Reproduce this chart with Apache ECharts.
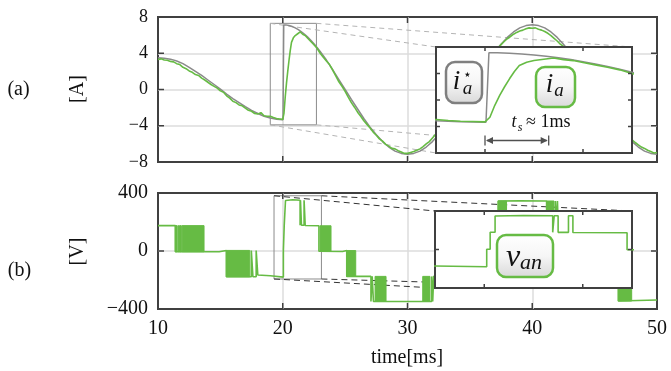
<!DOCTYPE html>
<html>
<head>
<meta charset="utf-8">
<script src="https://cdn.jsdelivr.net/npm/echarts@6/dist/echarts.min.js"></script>
<style>
html, body { margin: 0; padding: 0; background: #fff; }
#chart { width: 671px; height: 371px; }
</style>
</head>
<body>
<div id="chart"></div>
<script>
// Phase current reference i_a* : [time ms, current A]
const iRef = [
  [10.0, 3.49], [10.5, 3.45], [11.0, 3.35], [11.5, 3.15], [12.0, 2.85], [12.5, 2.45],
  [13.0, 2.0], [13.5, 1.55], [14.0, 1.05], [14.5, 0.55], [15.0, 0.05], [15.5, -0.5],
  [16.0, -1.0], [16.5, -1.45], [17.0, -1.9], [17.5, -2.3], [18.0, -2.65], [18.5, -2.95],
  [19.0, -3.15], [19.5, -3.28], [20.02, -3.35], [20.08, 7.13],
  [20.25, 7.13], [20.5, 7.06], [20.75, 6.95], [21.0, 6.8], [21.25, 6.61], [21.5, 6.37],
  [21.75, 6.1], [22.0, 5.78], [22.25, 5.44], [22.5, 5.06], [22.75, 4.64], [23.0, 4.2],
  [23.5, 3.25], [24.0, 2.2], [24.5, 1.1], [25.0, 0.0], [25.5, -1.1], [26.0, -2.15],
  [26.5, -3.2], [27.0, -4.15], [27.5, -5.0], [28.0, -5.75], [28.5, -6.35], [29.0, -6.8],
  [29.5, -7.05], [30.0, -7.15], [30.5, -7.05], [31.0, -6.8], [31.5, -6.35], [32.0, -5.75],
  [32.5, -5.0], [33.0, -4.15], [33.5, -3.2], [34.0, -2.15], [34.5, -1.1], [35.0, 0.0],
  [35.5, 1.1], [36.0, 2.15], [36.5, 3.2], [37.0, 4.15], [37.5, 5.0], [38.0, 5.75],
  [38.5, 6.35], [39.0, 6.8], [39.5, 7.05], [40.0, 7.15], [40.5, 7.05], [41.0, 6.8],
  [41.5, 6.35], [42.0, 5.75], [42.5, 5.0], [43.0, 4.15], [43.5, 3.2], [44.0, 2.15],
  [44.5, 1.1], [45.0, 0.0], [45.5, -1.1], [46.0, -2.15], [46.5, -3.2], [47.0, -4.15],
  [47.5, -5.0], [48.0, -5.75], [48.5, -6.35], [49.0, -6.8], [49.5, -7.05], [50.0, -7.15]
];

// Measured phase current i_a : [time ms, current A]
const iMeas = [
  [10.0, 3.3], [10.25, 3.38], [10.5, 3.25], [10.75, 3.22], [11.0, 3.1], [11.25, 3.05],
  [11.5, 2.85], [11.75, 2.75], [12.0, 2.45], [12.25, 2.3], [12.5, 2.05], [12.75, 1.9],
  [13.0, 1.65], [13.25, 1.55], [13.5, 1.25], [13.75, 1.05], [14.0, 0.8], [14.25, 0.55],
  [14.5, 0.35], [14.75, 0.15], [15.0, -0.15], [15.25, -0.3], [15.5, -0.7], [15.75, -0.95],
  [16.0, -1.3], [16.25, -1.45], [16.5, -1.7], [16.75, -1.8], [17.0, -2.05], [17.25, -2.3],
  [17.5, -2.4], [17.75, -2.65], [18.0, -2.7], [18.25, -2.55], [18.5, -2.9], [18.75, -2.95],
  [19.0, -2.95], [19.25, -3.1], [19.5, -3.2], [19.75, -3.25], [20.0, -3.3],
  [20.1, -2.6], [20.2, -0.8], [20.3, 0.7], [20.4, 2.0], [20.5, 3.2], [20.6, 4.3],
  [20.7, 5.2], [20.85, 5.7], [21.0, 5.95], [21.2, 6.15], [21.4, 6.35], [21.6, 6.1],
  [21.8, 5.95], [22.0, 5.65], [22.25, 5.3], [22.5, 4.95], [22.75, 4.55], [23.0, 4.0],
  [23.25, 3.55], [23.5, 3.15], [23.75, 2.75], [24.0, 2.15], [24.25, 1.5], [24.5, 0.85],
  [24.75, 0.35], [25.0, -0.2], [25.25, -0.85], [25.5, -1.45], [25.75, -1.95], [26.0, -2.5],
  [26.25, -2.95], [26.5, -3.45], [26.75, -3.85], [27.0, -4.25], [27.25, -4.7], [27.5, -5.05],
  [27.75, -5.45], [28.0, -5.7], [28.25, -6.05], [28.5, -6.25], [28.75, -6.5], [29.0, -6.55],
  [29.25, -6.75], [29.5, -6.9], [29.75, -7.05], [30.0, -7.05], [30.25, -6.95], [30.5, -6.85],
  [30.75, -6.7], [31.0, -6.55], [31.25, -6.3], [31.5, -6.0], [31.75, -5.75], [32.0, -5.35],
  [32.25, -4.95], [32.5, -4.5], [32.75, -4.05], [33.0, -3.55], [33.5, -2.5], [34.0, -1.45],
  [34.5, -0.4], [35.0, 0.65], [35.5, 1.7], [36.0, 2.65], [36.5, 3.55], [37.0, 4.3],
  [37.25, 4.6], [37.5, 4.95], [37.75, 5.3], [38.0, 5.6], [38.25, 5.85], [38.5, 6.1],
  [38.75, 6.3], [39.0, 6.45], [39.25, 6.55], [39.5, 6.7], [39.75, 6.8], [40.0, 6.75],
  [40.25, 6.8], [40.5, 6.65], [40.75, 6.55], [41.0, 6.4], [41.25, 6.2], [41.5, 5.95],
  [41.75, 5.65], [42.0, 5.35], [42.25, 5.0], [42.5, 4.75], [43.0, 4.0], [43.5, 3.1],
  [44.0, 2.1], [44.5, 1.05], [45.0, 0.0], [45.5, -1.05], [46.0, -2.1], [46.5, -3.1],
  [47.0, -4.0], [47.5, -4.85], [47.75, -5.2], [48.0, -5.55], [48.25, -5.85], [48.5, -6.1],
  [48.75, -6.35], [49.0, -6.5], [49.25, -6.7], [49.5, -6.85], [49.75, -7.0], [50.0, -6.95]
];

// Phase voltage v_an, switching level sequence : [time ms, voltage V]
const vAn = [
  [10.0, 175], [11.39, 175], [11.39, -5], [14.9, -5],
  [14.9, 4], [15.48, 4], [15.48, -178], [17.48, -178], [17.48, 3], [17.61, 3],
  [17.61, -178], [17.87, -178], [17.87, 3], [18.0, 3], [18.0, -166], [19.0, -171],
  [20.05, -180], [20.05, 2], [20.12, 2], [20.12, 180], [20.22, 180], [20.22, 348],
  [20.8, 353], [21.39, 350], [21.39, 178], [21.42, 178], [21.42, 350], [21.5, 350],
  [21.5, 178], [21.71, 178], [21.71, 350], [21.8, 350], [21.8, 176], [22.9, 174],
  [22.9, -2], [24.8, -3], [24.8, 3], [25.13, 3], [25.13, -175], [27.07, -175],
  [27.07, -348], [27.17, -348], [27.17, -175], [27.27, -175], [27.27, -348], [31.94, -348],
  [31.94, -175], [32.02, -175], [32.02, -348], [32.1, -348], [32.1, -175], [33.6, -175],
  [33.6, 0], [35.3, 0], [35.3, 175], [37.27, 175], [37.27, 345], [39.0, 347],
  [41.15, 345], [41.15, 175], [41.85, 175], [41.85, 345], [41.92, 345], [41.92, 175],
  [42.02, 175], [42.02, 345], [42.08, 345], [42.08, 175], [43.6, 175], [43.6, 0],
  [45.3, 0], [45.3, -175], [46.9, -175], [46.9, -345], [50.0, -338]
];

// Intervals of fast PWM switching between two levels : [t start, t end, low V, high V]
const pwmBands = [
  [11.39, 11.53, -5, 175], [11.6, 11.66, -5, 175], [11.72, 11.87, -5, 175],
  [11.93, 13.69, -5, 175], [15.48, 17.35, -178, 4], [22.99, 23.87, -2, 174],
  [25.13, 25.85, -175, 3], [27.4, 28.28, -348, -175], [31.22, 31.8, -348, -175],
  [33.6, 34.3, -175, 0], [35.3, 36.1, 0, 175], [37.27, 37.94, 175, 345],
  [41.15, 41.74, 175, 345], [43.6, 44.3, 0, 175], [45.3, 46.1, -175, 0],
  [46.9, 47.97, -345, -175]
];

// Zoomed windows [t0, t1, y0, y1] and the ranges shown in the magnified insets
const zoomA = [19.0, 22.7, -3.9, 7.3];
const insetA = [19, 23, -8, 8];
const zoomB = [19.3, 23.1, -193, 381];
const insetB = [19, 23, -400, 400];

// Tick positions
const timeTicks = [20, 30, 40];
const currentTicks = [-4, 0, 4];
const voltageTicks = [0];
const insetTimeTicks = [20, 22];

// Settling interval marked in the current inset [ms]
const settle = [20.0, 21.3];

const GREEN = '#66bb44';
const GRAY = '#8a8a8a';
const FRAME = '#404040';
const GRIDC = '#dcdcdc';
const SERIF = '"Liberation Serif", "DejaVu Serif", serif';

const minus = v => String(v).replace('-', '\u2212');

const noLine = { show: false, onZero: false };
const hidden = { show: false };
const gridLines = { show: true, showMinLine: false, showMaxLine: false, lineStyle: { color: GRIDC, width: 1.5 } };

function mainX(grid, labels) {
  return {
    type: 'value', gridIndex: grid, position: 'bottom', min: 10, max: 50, interval: 10,
    axisLine: noLine, axisTick: hidden, splitLine: gridLines,
    axisLabel: { show: labels, fontFamily: SERIF, fontSize: 20, color: '#111', margin: 10 }
  };
}
function mainY(grid, min, max, interval, size) {
  return {
    type: 'value', gridIndex: grid, position: 'left', min, max, interval,
    axisLine: noLine, axisTick: hidden, splitLine: gridLines,
    axisLabel: { fontFamily: SERIF, fontSize: size, color: '#111', margin: 10, formatter: minus }
  };
}
function insetX(grid, r) {
  return {
    type: 'value', gridIndex: grid, min: r[0], max: r[1],
    axisLine: noLine, splitLine: hidden, axisLabel: hidden, axisTick: hidden
  };
}
function insetY(grid, r) {
  return {
    type: 'value', gridIndex: grid, min: r[2], max: r[3],
    axisLine: noLine, splitLine: hidden, axisLabel: hidden, axisTick: hidden
  };
}

const frameGrid = (l, t, w, h) => ({ left: l, top: t, width: w, height: h, show: true, borderColor: FRAME, borderWidth: 2, backgroundColor: 'transparent' });

const rectArea = (z) => ({
  silent: true,
  itemStyle: { color: 'rgba(0,0,0,0)', borderColor: '#8c8c8c', borderWidth: 1 },
  data: [[{ coord: [z[0], z[3]] }, { coord: [z[1], z[2]] }]]
});

const lineSeries = (xi, yi, data, color, width, z, extra) => Object.assign({
  type: 'line', xAxisIndex: xi, yAxisIndex: yi, data, showSymbol: false, symbol: 'none',
  lineStyle: { color, width }, z, animation: false
}, extra || {});

const chart = echarts.init(document.getElementById('chart'), null, { renderer: 'canvas' });

chart.setOption({
  animation: false,
  grid: [
    frameGrid(158, 17, 499, 145),
    frameGrid(158, 193, 499, 116),
    { left: 436, top: 47, width: 196, height: 106, show: false },
    { left: 435, top: 211, width: 197, height: 77, show: false }
  ],
  xAxis: [mainX(0, false), mainX(1, true), insetX(2, insetA), insetX(3, insetB)],
  yAxis: [mainY(0, -8, 8, 4, 18), mainY(1, -400, 400, 400, 20), insetY(2, insetA), insetY(3, insetB)],
  series: [
    lineSeries(0, 0, iRef, GRAY, 1.5, 3, { markArea: rectArea(zoomA) }),
    lineSeries(0, 0, iMeas, GREEN, 1.6, 4),
    {
      type: 'custom', xAxisIndex: 1, yAxisIndex: 1, data: pwmBands, z: 3,
      encode: { x: [0, 1], y: [2, 3] },
      renderItem(params, api) {
        const a = api.coord([api.value(0), api.value(3)]);
        const b = api.coord([api.value(1), api.value(2)]);
        return {
          type: 'rect',
          shape: { x: a[0], y: a[1], width: b[0] - a[0], height: b[1] - a[1] },
          style: { fill: GREEN, stroke: GREEN, lineWidth: 1 }
        };
      }
    },
    lineSeries(1, 1, vAn, GREEN, 1.6, 4, { markArea: rectArea(zoomB) }),
    lineSeries(2, 2, iRef, GRAY, 1.5, 21),
    lineSeries(2, 2, iMeas, GREEN, 1.6, 22),
    lineSeries(3, 3, vAn, GREEN, 1.6, 21)
  ]
});

const px = (ai, pt) => chart.convertToPixel({ xAxisIndex: ai, yAxisIndex: ai }, pt);

function corners(ai, r) {
  return {
    tl: px(ai, [r[0], r[3]]), tr: px(ai, [r[1], r[3]]),
    bl: px(ai, [r[0], r[2]]), br: px(ai, [r[1], r[2]])
  };
}

const graphics = [];

function connectors(zc, ic, color, dash) {
  ['tl', 'tr', 'bl', 'br'].forEach(k => {
    graphics.push({
      type: 'line', z: 1, silent: true,
      shape: { x1: zc[k][0], y1: zc[k][1], x2: ic[k][0], y2: ic[k][1] },
      style: { stroke: color, lineWidth: 1, lineDash: dash }
    });
  });
}
function insetPanel(ic) {
  graphics.push({
    type: 'rect', z: 10, silent: true,
    shape: { x: ic.tl[0], y: ic.tl[1], width: ic.br[0] - ic.tl[0], height: ic.br[1] - ic.tl[1] },
    style: { fill: '#ffffff', stroke: FRAME, lineWidth: 2 }
  });
}
// inward tick marks on all four sides of a panel
function ticks(ai, r, xs, ys, len, z) {
  const seg = (x1, y1, x2, y2) => graphics.push({
    type: 'line', z, silent: true, shape: { x1, y1, x2, y2 },
    style: { stroke: FRAME, lineWidth: 1.5 }
  });
  xs.forEach(t => {
    const b = px(ai, [t, r[2]]), tp = px(ai, [t, r[3]]);
    seg(b[0], b[1], b[0], b[1] - len);
    seg(tp[0], tp[1], tp[0], tp[1] + len);
  });
  ys.forEach(v => {
    const l = px(ai, [r[0], v]), rt = px(ai, [r[1], v]);
    seg(l[0], l[1], l[0] + len, l[1]);
    seg(rt[0], rt[1], rt[0] - len, rt[1]);
  });
}

const rangeA = [10, 50, -8, 8], rangeB = [10, 50, -400, 400];
const zA = corners(0, zoomA), iA = corners(2, insetA);
const zB = corners(1, zoomB), iB = corners(3, insetB);
connectors(zA, iA, '#b4b4b4', [5, 4]);
connectors(zB, iB, '#333333', [6, 4]);
ticks(0, rangeA, timeTicks, currentTicks, 6, 6);
ticks(1, rangeB, timeTicks, voltageTicks, 6, 6);
insetPanel(iA);
insetPanel(iB);
ticks(2, insetA, insetTimeTicks, currentTicks, 4, 25);
ticks(3, insetB, insetTimeTicks, voltageTicks, 4, 25);

// rounded label boxes inside the insets
function labelBox(x, y, w, h, stroke) {
  graphics.push({
    type: 'rect', z: 30, silent: true,
    shape: { x, y, width: w, height: h, r: 9 },
    style: {
      stroke, lineWidth: 2.5,
      fill: new echarts.graphic.LinearGradient(0, 0, 0, 1, [
        { offset: 0, color: '#ffffff' }, { offset: 0.5, color: '#f6f6f6' }, { offset: 1, color: '#d8d8d8' }
      ])
    }
  });
}
function txt(text, x, y, size, opts) {
  graphics.push(Object.assign({
    type: 'text', z: 31, silent: true, x, y,
    style: Object.assign({
      text, fontFamily: SERIF, fontSize: size, fill: '#111',
      textAlign: 'center', textVerticalAlign: 'middle'
    }, (opts && opts.style) || {})
  }, (opts && opts.el) || {}));
}
const ital = { style: { fontStyle: 'italic' } };

labelBox(446, 62, 36, 41, '#7f7f7f');
txt('i', 456.5, 82, 27, ital);
txt('\u22C6', 467, 75, 14);
txt('a', 467.5, 89, 19, ital);

labelBox(536, 67, 39, 40, GREEN);
txt('i', 549.5, 85, 27, ital);
txt('a', 559, 91, 19, ital);

labelBox(497, 235, 56, 42, GREEN);
txt('v', 513, 258, 32, ital);
txt('an', 531, 263, 22, ital);

// settling time annotation
txt('t', 514, 122, 18, ital);
txt('s', 520, 128, 12, ital);
txt('\u2248 1ms', 526, 122, 18, { style: { textAlign: 'left' } });

const a0 = px(2, [settle[0], -6.1]);
const a1 = px(2, [settle[1], -6.1]);
const AC = '#505050';
graphics.push({ type: 'line', z: 30, silent: true, shape: { x1: a0[0] + 2, y1: a0[1], x2: a1[0] - 2, y2: a1[1] }, style: { stroke: AC, lineWidth: 1.5 } });
graphics.push({ type: 'line', z: 30, silent: true, shape: { x1: a0[0], y1: a0[1] - 5, x2: a0[0], y2: a0[1] + 5 }, style: { stroke: AC, lineWidth: 1.3 } });
graphics.push({ type: 'line', z: 30, silent: true, shape: { x1: a1[0], y1: a1[1] - 5, x2: a1[0], y2: a1[1] + 5 }, style: { stroke: AC, lineWidth: 1.3 } });
graphics.push({ type: 'polygon', z: 30, silent: true, shape: { points: [[a0[0] + 1, a0[1]], [a0[0] + 8, a0[1] - 3.5], [a0[0] + 8, a0[1] + 3.5]] }, style: { fill: AC } });
graphics.push({ type: 'polygon', z: 30, silent: true, shape: { points: [[a1[0] - 1, a1[1]], [a1[0] - 8, a1[1] - 3.5], [a1[0] - 8, a1[1] + 3.5]] }, style: { fill: AC } });

// panel tags and axis titles
txt('(a)', 18.5, 90, 20);
txt('[A]', 77.5, 89, 20, { el: { rotation: Math.PI / 2 } });
txt('(b)', 19.5, 271, 20);
txt('[V]', 78, 251.5, 20, { el: { rotation: Math.PI / 2 } });
txt('time[ms]', 407, 358, 20);

chart.setOption({ graphic: { elements: graphics } });
</script>
</body>
</html>
